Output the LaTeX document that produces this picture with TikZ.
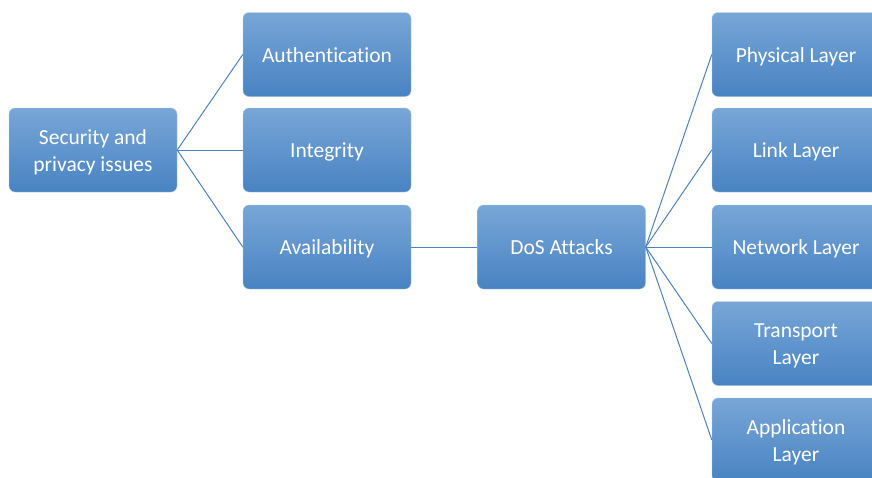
\documentclass[tikz,border=0pt]{standalone}
\usepackage{fontspec}
\setmainfont[Ligatures={NoCommon}]{Carlito}
\definecolor{boxtop}{RGB}{120,166,215}
\definecolor{boxbot}{RGB}{72,131,194}
\definecolor{linkblue}{RGB}{79,129,189}
\tikzset{
  card/.style={rounded corners=6pt, top color=boxtop, bottom color=boxbot,
    draw=boxtop!60!white, line width=0.4pt,
    minimum width=168pt, minimum height=84pt, inner sep=0pt,
    text=white, align=center, font=\fontsize{21.5}{27}\selectfont},
  oneline/.style={card, text height=19pt, text depth=4pt},
  link/.style={draw=linkblue, line width=1pt}
}
\begin{document}
\begin{tikzpicture}[x=1pt,y=-1pt]
\useasboundingbox (0,0) rectangle (872,477);
\begin{scope}
\clip (0,0) rectangle (872,477);
% first level
\node[card] (sec) at (93,150) {\strut Security and\\privacy issues};
% security properties
\node[oneline] (auth) at (327,54.5) {Authentication};
\node[oneline] (integ) at (327,150) {Integrity};
\node[oneline] (avail) at (327,247) {Availability};
% attack class
\node[oneline] (dos) at (561.5,247) {DoS Attacks};
% protocol layers
\node[oneline] (phy) at (796,54.5) {Physical Layer};
\node[oneline] (lnk) at (796,150) {Link Layer};
\node[oneline] (net) at (796,247) {Network Layer};
\node[card] (trn) at (796,343.5) {\strut Transport\\Layer};
\node[card] (app) at (796,440) {\strut Application\\Layer};
% connectors
\foreach \c in {auth,integ,avail}
  \draw[link] (sec.east) -- (\c.west);
\draw[link] (avail.east) -- (dos.west);
\foreach \c in {phy,lnk,net,trn,app}
  \draw[link] (dos.east) -- (\c.west);
\end{scope}
\end{tikzpicture}
\end{document}
